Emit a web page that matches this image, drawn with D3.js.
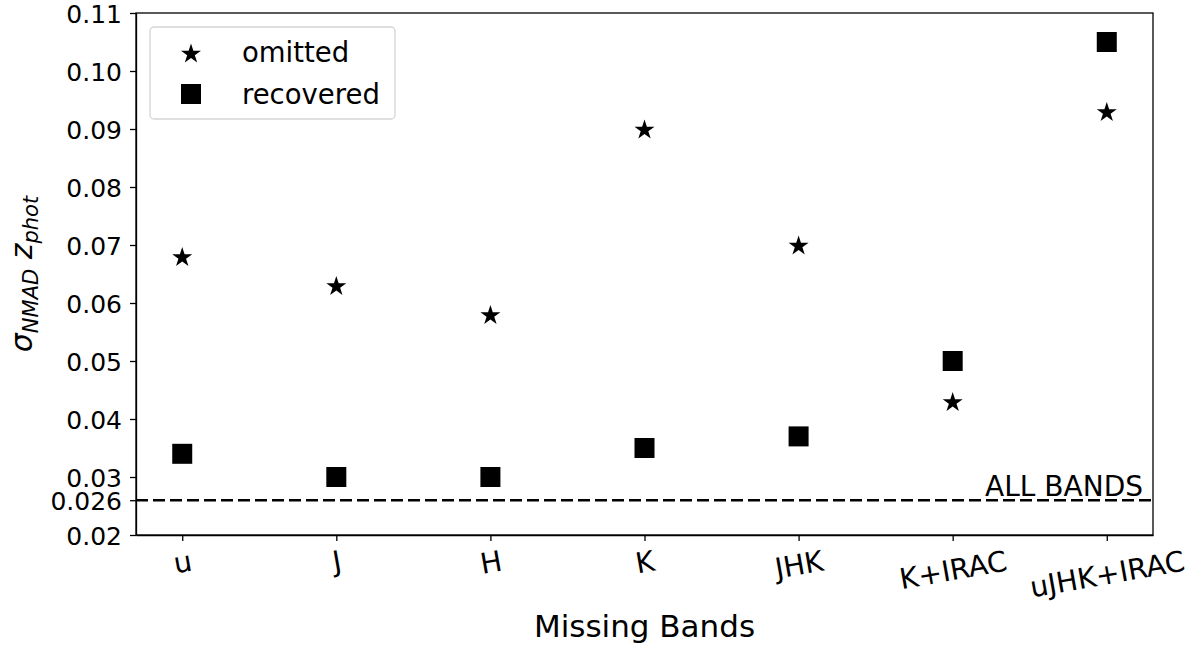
<!DOCTYPE html>
<html lang="en">
  <head>
    <meta charset="UTF-8" />
    <title>sigma NMAD vs missing bands</title>
    <script src="https://d3js.org/d3.v7.min.js"></script>
    <style>
      * {
        margin: 0;
        padding: 0;
      }

      body {
        background: #ffffff;
        font-family: "DejaVu Sans", sans-serif;
      }

      .axis text {
        font-family: "DejaVu Sans", sans-serif;
        font-size: 25px;
        fill: #000;
      }

      .axis.x text {
        font-size: 28.5px;
      }

      .axis path,
      .axis line {
        stroke: #000;
        stroke-width: 1.3px;
      }
    </style>
  </head>

  <body>
    <div id="chart"></div>

    <script>
      const bands = ["u", "J", "H", "K", "JHK", "K+IRAC", "uJHK+IRAC"];
      const omitted = [0.068, 0.063, 0.058, 0.09, 0.07, 0.043, 0.093];
      const recovered = [0.034, 0.03, 0.03, 0.035, 0.037, 0.05, 0.105];
      const yTicks = [0.02, 0.026, 0.03, 0.04, 0.05, 0.06, 0.07, 0.08, 0.09, 0.1, 0.11];
      const yTickLabels = ["0.02", "0.026", "0.03", "0.04", "0.05", "0.06", "0.07", "0.08", "0.09", "0.10", "0.11"];
      const allBands = 0.026;

      const W = 1198,
        H = 645;
      const plot = { left: 136, right: 1153, top: 13, bottom: 535 };

      const svg = d3
        .select("#chart")
        .append("svg")
        .attr("width", W)
        .attr("height", H);

      const x = d3
        .scaleLinear()
        .domain([-0.3, bands.length - 1 + 0.3])
        .range([plot.left, plot.right]);

      const y = d3
        .scaleLinear()
        .domain([0.02, 0.11])
        .range([plot.bottom, plot.top]);

      // reference line for all bands
      svg
        .append("line")
        .attr("x1", plot.left)
        .attr("x2", plot.right)
        .attr("y1", y(allBands))
        .attr("y2", y(allBands))
        .attr("stroke", "#000")
        .attr("stroke-width", 2.5)
        .attr("stroke-dasharray", "12,5");

      svg
        .append("text")
        .attr("x", plot.right - 10)
        .attr("y", y(allBands) - 4)
        .attr("text-anchor", "end")
        .style("font-size", "28px")
        .text("ALL BANDS");

      // Y axis
      const yAxis = svg
        .append("g")
        .attr("class", "axis y")
        .attr("transform", `translate(${plot.left},0)`)
        .call(
          d3
            .axisLeft(y)
            .tickValues(yTicks)
            .tickFormat((d, i) => yTickLabels[i])
            .tickSize(6)
            .tickSizeOuter(0)
            .tickPadding(8)
        );
      yAxis.selectAll("text").attr("dy", "0.36em");

      // X axis, labels rotated a little like the original
      const xAxis = svg
        .append("g")
        .attr("class", "axis x")
        .attr("transform", `translate(0,${plot.bottom})`)
        .call(
          d3
            .axisBottom(x)
            .tickValues(d3.range(bands.length))
            .tickFormat((d) => bands[d])
            .tickSize(6)
            .tickSizeOuter(0)
        );

      const rot = (10 * Math.PI) / 180;
      xAxis.selectAll(".tick text").each(function () {
        const t = d3.select(this);
        const w = this.getComputedTextLength();
        const h = 33;
        const cy = 9 + (w * Math.sin(rot) + h * Math.cos(rot)) / 2;
        t.attr("y", 0)
          .attr("dy", "0.36em")
          .attr("text-anchor", "middle")
          .attr("transform", `translate(0,${cy}) rotate(-10)`);
      });

      // frame
      svg
        .append("rect")
        .attr("x", plot.left)
        .attr("y", plot.top)
        .attr("width", plot.right - plot.left)
        .attr("height", plot.bottom - plot.top)
        .attr("fill", "none")
        .attr("stroke", "#000")
        .attr("stroke-width", 1.3);

      // markers
      const star = d3.symbol().type(d3.symbolStar).size(124);

      svg
        .selectAll(".rec")
        .data(recovered)
        .enter()
        .append("rect")
        .attr("class", "rec")
        .attr("x", (d, i) => x(i) - 10)
        .attr("y", (d) => y(d) - 10)
        .attr("width", 20)
        .attr("height", 20)
        .attr("fill", "#000");

      svg
        .selectAll(".omit")
        .data(omitted)
        .enter()
        .append("path")
        .attr("class", "omit")
        .attr("d", star)
        .attr("transform", (d, i) => `translate(${x(i)},${y(d) + 1})`)
        .attr("fill", "#000");

      // axis labels
      svg
        .append("text")
        .attr("x", (plot.left + plot.right) / 2)
        .attr("y", 637)
        .attr("text-anchor", "middle")
        .style("font-size", "31px")
        .text("Missing Bands");

      const yl = svg
        .append("text")
        .attr("transform", `translate(32,${(plot.top + plot.bottom) / 2}) rotate(-90)`)
        .attr("text-anchor", "middle")
        .style("font-size", "30px")
        .style("font-style", "italic");
      yl.append("tspan").text("σ");
      yl.append("tspan")
        .attr("dy", 6)
        .style("font-size", "21px")
        .text("NMAD");
      yl.append("tspan").attr("dy", -6).text(" z");
      yl.append("tspan")
        .attr("dy", 6)
        .style("font-size", "21px")
        .text("phot");

      // legend
      const lg = svg.append("g").attr("transform", "translate(150,27)");
      lg.append("rect")
        .attr("width", 245)
        .attr("height", 92)
        .attr("rx", 4)
        .attr("fill", "#fff")
        .attr("fill-opacity", 0.8)
        .attr("stroke", "#d5d5d5")
        .attr("stroke-width", 1.3);
      lg.append("path")
        .attr("d", star)
        .attr("transform", "translate(41,27)")
        .attr("fill", "#000");
      lg.append("rect")
        .attr("x", 31)
        .attr("y", 57)
        .attr("width", 20)
        .attr("height", 20)
        .attr("fill", "#000");
      lg.append("text")
        .attr("x", 92)
        .attr("y", 35)
        .style("font-size", "27.5px")
        .text("omitted");
      lg.append("text")
        .attr("x", 92)
        .attr("y", 77)
        .style("font-size", "27.5px")
        .text("recovered");
    </script>
  </body>
</html>
